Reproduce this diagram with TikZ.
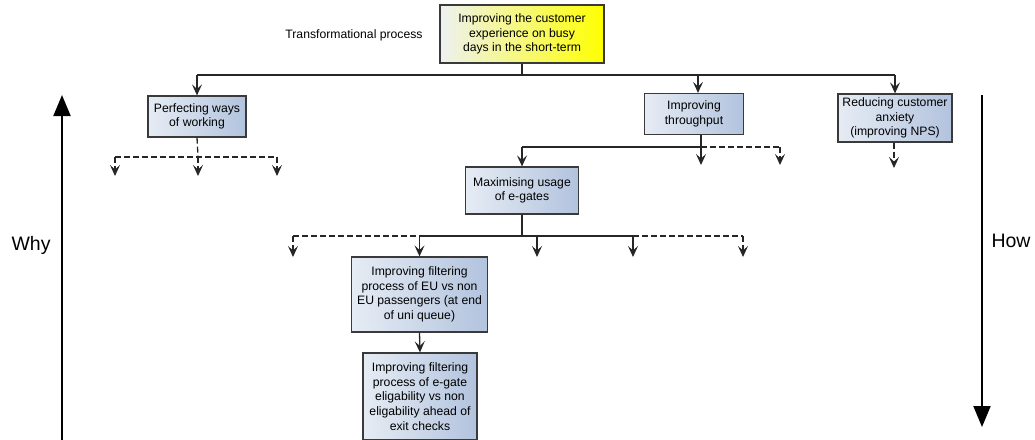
\documentclass[tikz,border=0pt]{standalone}
\usepackage{fontspec}
\setmainfont{Liberation Sans}
\usetikzlibrary{arrows.meta}
\definecolor{boxlight}{HTML}{E6ECF4}
\definecolor{boxdark}{HTML}{B2C3DE}
\definecolor{goallight}{HTML}{EEF1F2}
\definecolor{goaldark}{HTML}{FFFF00}
\definecolor{edge}{HTML}{3A3A3A}
\begin{document}
\begin{tikzpicture}[x=1pt,y=-1pt,
  txt/.style={font=\fontsize{12.2}{14.6}\selectfont, align=center},
  box/.style={txt, draw=edge, line width=1.2pt, left color=boxlight, right color=boxdark, inner sep=0pt},
  goal/.style={box, left color=goallight, right color=goaldark},
  conn/.style={draw=black!85, line width=1.3pt},
  link/.style={conn, -{Stealth[length=11pt,width=10pt,inset=4.5pt]}},
  dlink/.style={link, dash pattern=on 6pt off 3pt},
  dconn/.style={conn, dash pattern=on 6pt off 3pt},
  axis/.style={line width=2pt, -{Triangle[length=21pt,width=17pt]}},
  axislabel/.style={font=\fontsize{19.5}{22}\selectfont}
]
\useasboundingbox (0,0) rectangle (1035,439);

% goal and label
\node[goal, minimum width=164pt, minimum height=58pt] (goal) at (522,34)
  {Improving the customer\\experience on busy\\days in the short-term};
\node[txt] (kind) at (354,35) {Transformational process};

% first level
\node[box, minimum width=98pt, minimum height=41pt] (perf) at (197,116.5)
  {Perfecting ways\\of working};
\node[box, minimum width=99pt, minimum height=41pt] (thr) at (694,114)
  {Improving\\throughput};
\node[box, minimum width=114pt, minimum height=48pt] (red) at (895,118)
  {Reducing customer\\anxiety\\(improving NPS)};

% second and third level
\node[box, minimum width=113pt, minimum height=47pt] (max) at (522,190.5)
  {Maximising usage\\of e-gates};
\node[box, minimum width=136pt, minimum height=75pt] (eu) at (419.5,294.5)
  {Improving filtering\\process of EU vs non\\EU passengers (at end\\of uni queue)};
\node[box, minimum width=114pt, minimum height=87pt] (gate) at (420,396.5)
  {Improving filtering\\process of e-gate\\eligability vs non\\eligability ahead of\\exit checks};

% branch rails
\coordinate (bus0) at (522,75);
\coordinate (bus1) at (198,157);
\coordinate (bus2) at (701,147);
\coordinate (bus3) at (522,236);

% goal -> first level
\draw[conn] (goal.south) -- (bus0);
\draw[conn] (bus0 -| perf.north) -- (bus0 -| red.north);
\draw[link] (bus0 -| perf.north) -- (perf.north);
\draw[link] ([xshift=4pt]bus0 -| thr.north) -- ([xshift=4pt]thr.north);
\draw[link] (bus0 -| red.north) -- (red.north);

% open branches below Perfecting ways of working
\coordinate (p1) at (115,176);
\coordinate (p2) at (198,176);
\coordinate (p3) at (277,176);
\draw[dconn] (perf.south) -- (bus1);
\draw[dconn] (bus1 -| p1) -- (bus1 -| p3);
\draw[dlink] (bus1 -| p1) -- (p1);
\draw[dlink] (bus1 -| p2) -- (p2);
\draw[dlink] (bus1 -| p3) -- (p3);

% branches below Improving throughput
\coordinate (t1) at (701,165);
\coordinate (t2) at (780,165);
\draw[conn] ([xshift=7pt]thr.south) -- (bus2);
\draw[conn] (bus2 -| max.north) -- (bus2);
\draw[dconn] (bus2) -- (bus2 -| t2);
\draw[link] (bus2 -| max.north) -- (max.north);
\draw[link] (bus2) -- (t1);
\draw[dlink] (bus2 -| t2) -- (t2);

% open branch below Reducing customer anxiety
\coordinate (r1) at (894,168);
\draw[dlink] ([xshift=-1pt]red.south) -- (r1);

% branches below Maximising usage of e-gates
\coordinate (m1) at (293,257);
\coordinate (m3) at (537,257);
\coordinate (m4) at (633,257);
\coordinate (m5) at (743,257);
\draw[conn] (max.south) -- (bus3);
\draw[conn] (bus3 -| eu.north) -- (bus3 -| m4);
\draw[dconn] (bus3 -| m1) -- (bus3 -| eu.north);
\draw[dconn] (bus3 -| m4) -- (bus3 -| m5);
\draw[dlink] (bus3 -| m1) -- (m1);
\draw[link] (bus3 -| eu.north) -- (eu.north);
\draw[link] (bus3 -| m3) -- (m3);
\draw[link] (bus3 -| m4) -- (m4);
\draw[dlink] (bus3 -| m5) -- (m5);

% EU filtering -> e-gate filtering
\draw[link] (eu.south) -- (gate.north);

% why / how axes
\coordinate (whyfoot) at (62,445);
\coordinate (whytip) at (62,95);
\coordinate (howfoot) at (982,95);
\coordinate (howtip) at (982,427);
\draw[axis] (whyfoot) -- (whytip);
\draw[axis] (howfoot) -- (howtip);
\node[axislabel] (why) at (31,245) {Why};
\node[axislabel] (how) at (1011,241) {How};
\end{tikzpicture}
\end{document}
